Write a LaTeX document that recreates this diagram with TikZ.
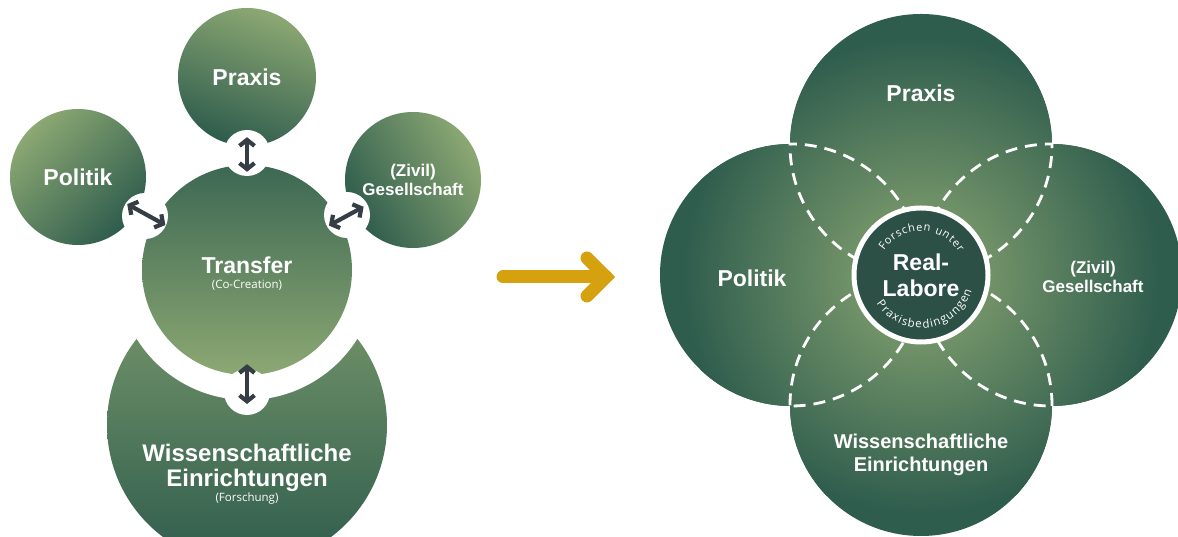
\documentclass[tikz,border=0pt]{standalone}
\usepackage{fontspec}
\setmainfont{Liberation Sans}
\newfontfamily\notefont{Open Sans}
\usetikzlibrary{calc}
\usetikzlibrary{arrows.meta}
\usetikzlibrary{decorations.text}
\usepackage{xcolor}
\definecolor{moss}{HTML}{8CA873}
\definecolor{pine}{HTML}{2E5C4D}
\definecolor{core}{HTML}{2C5045}
\definecolor{slate}{HTML}{363D45}
\definecolor{gold}{HTML}{D6A10E}
\newcommand\setsz[2]{\fontsize{#1}{#2}\selectfont}

\begin{document}
\begin{tikzpicture}[x=1pt, y=1pt,
  bubble/.style={circle, inner sep=0, minimum size=#1, text=white, align=center},
  heading/.style 2 args={text=white, font=\bfseries\setsz{#1}{#2}, align=center},
  note/.style={text=white, font=\notefont\setsz{11.5}{12}},
  link/.style={slate, line width=4.2pt, {Straight Barb[length=6pt,width=15pt]}-{Straight Barb[length=6pt,width=15pt]}},
  seam/.style={white, line width=2.8pt, dash pattern=on 12pt off 8pt},
  goldline/.style={gold, line width=13pt, line cap=round}]
\useasboundingbox (0,0) rectangle (1178,537);
\fill[white] (0,0) rectangle (1178,537);

\node[bubble=280, top color=moss!80!pine, bottom color=pine] (wissL) at (247,112) {};
\fill[white] (247,267) circle[radius=130];
\node[bubble=138, top color=moss, bottom color=pine, shading angle=-20, heading={23}{23}] (praxisL) at (247,460) {Praxis};
\node[bubble=136, top color=moss, bottom color=pine, shading angle=45, heading={23}{23}] (politikL) at (78,360) {Politik};
\node[bubble=136, top color=moss, bottom color=pine, shading angle=-60, heading={17}{19}] (gesellL) at (413,357) {(Zivil)\\Gesellschaft};
\node[bubble=210, top color=pine!85!moss, bottom color=moss] (transfer) at (247,267) {};
\node[heading={23}{23}] (transferText) at (247,272) {Transfer};
\node[note] (coCreation) at (247,252) {(Co-Creation)};
\foreach \x/\y in {247/384, 145/321, 347/322, 247/145} \fill[white] (\x,\y) circle[radius=23];
\draw[link, shorten <=-9pt, shorten >=-7pt] (praxisL.south) -- (transfer.north);
\draw[link, shorten <=-12pt, shorten >=-12pt] (politikL) -- (transfer);
\draw[link, shorten <=-12pt, shorten >=-12pt] (gesellL) -- (transfer);
\coordinate (wissTop) at (247,133);
\draw[link, shorten <=-11pt] (transfer.south) -- (wissTop);
\node[heading={24}{25}] (wissText) at (247,69) {Wissenschaftliche\\Einrichtungen};
\node[note] (forschung) at (247,38) {(Forschung)};

\coordinate (from) at (503,260);
\coordinate (to) at (606,260);
\draw[goldline] (from) -- (to);
\draw[goldline, line join=miter] ([shift={(-19,19)}]to) -- (to) -- ([shift={(-19,-19)}]to);

\coordinate (c) at (921,262);
\coordinate (pN) at (921,392);
\coordinate (pW) at (791,262);
\coordinate (pE) at (1051,262);
\coordinate (pS) at (921,132);
\begin{scope}
\clip \foreach \p in {pN,pW,pE,pS} {(\p) circle[radius=131]};
\fill[pine] (650,0) rectangle (1178,537);
\shade[inner color=moss, outer color=pine] (c) circle[radius=240];
\end{scope}
\foreach \p/\q/\r/\s in {pN/pW/pE/pS, pW/pN/pE/pS, pE/pN/pW/pS, pS/pN/pW/pE} {
  \begin{scope}
  \clip (\q) circle[radius=131] (\r) circle[radius=131] (\s) circle[radius=131];
  \draw[seam] (\p) circle[radius=131];
  \end{scope}
}
\node[circle, inner sep=0, minimum size=134, fill=core, draw=white, line width=5pt, heading={23}{26}] (core) at (c) {Real-\\Labore};
\path[decorate, decoration={text along path, text align=fit to path, text={|\notefont\setsz{11}{12}\color{white}|Forschen unter}}] ([shift={(147:44)}]core.center) arc[start angle=147, end angle=31, radius=44];
\path[decorate, decoration={text along path, text align=fit to path, text={|\notefont\setsz{11.5}{12}\color{white}|Praxisbedingungen}}] ([shift={(213:53)}]core.center) arc[start angle=213, end angle=343, radius=53];
\node[heading={23}{23}] (praxisR) at (921,444) {Praxis};
\node[heading={23}{23}] (politikR) at (752,259) {Politik};
\node[heading={17}{19}] (gesellR) at (1093,260) {(Zivil)\\Gesellschaft};
\node[heading={20}{23}] (wissR) at (921,82) {Wissenschaftliche\\Einrichtungen};
\end{tikzpicture}
\end{document}
